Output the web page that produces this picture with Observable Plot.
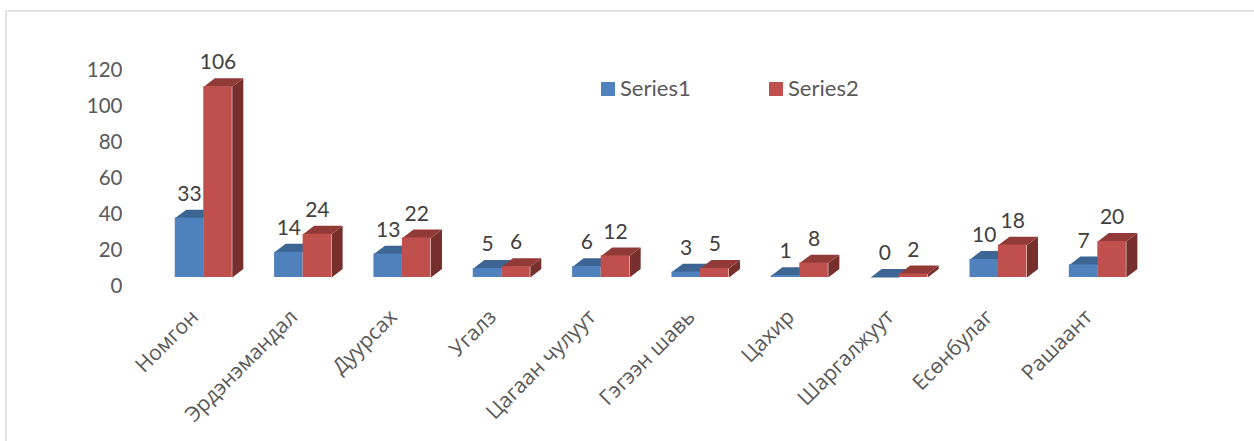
<!DOCTYPE html>
<html>
<head>
<meta charset="utf-8">
<script src="https://cdn.jsdelivr.net/npm/d3@7"></script>
<script src="https://cdn.jsdelivr.net/npm/@observablehq/plot@0.6"></script>
<style>
  html, body { margin: 0; padding: 0; background: #fff; }
  #chart { position: relative; width: 1254px; height: 441px; overflow: hidden; font-family: Lato, "Open Sans", sans-serif; }
  #chart svg { position: absolute; left: 0; top: 0; background: transparent; }
  #edge { position: absolute; left: 5px; top: 10px; right: 0; bottom: 0; border-top: 2px solid #e2e2e2; border-left: 2px solid #e2e2e2; }
  .key { position: absolute; top: 75px; font-size: 22px; line-height: 26px; color: #595959; white-space: nowrap; }
  .key i { position: absolute; left: 0; top: 7px; width: 14px; height: 14px; }
  .key span { position: absolute; left: 19px; top: 0; }
</style>
</head>
<body>
<div id="chart"><div id="edge"></div></div>
<script>
const categories = ["Номгон", "Эрдэнэмандал", "Дуурсах", "Угалз", "Цагаан чулуут", "Гэгээн шавь", "Цахир", "Шаргалжуут", "Есөнбулаг", "Рашаант"];
const series1 = [33, 14, 13, 5, 6, 3, 1, 0, 10, 7];
const series2 = [106, 24, 22, 6, 12, 5, 8, 2, 18, 20];
const seriesNames = ["Series1", "Series2"];
const frontColors = ["#4f81bd", "#c0504d"];
const topColors = ["#3d6594", "#913a38"];
const sideColors = ["#345680", "#772f2d"];
const yTicks = [0, 20, 40, 60, 80, 100, 120];

// Depth of the 3-D boxes and width of a bar, in scale units
const barW = 0.287;
const depthX = 0.111;
const depthY = 4.7;

const bars = [];
categories.forEach((c, i) => {
  [series1, series2].forEach((vals, s) => {
    bars.push({c, i, s, v: vals[i], x0: i - barW + s * barW, x1: i + s * barW});
  });
});

const poly = (kind) => bars.flatMap((b) => {
  const id = `${b.i}-${b.s}`;
  const pts = kind === "top"
    ? [[b.x0, b.v], [b.x1, b.v], [b.x1 + depthX, b.v + depthY], [b.x0 + depthX, b.v + depthY]]
    : [[b.x1, 0], [b.x1 + depthX, depthY], [b.x1 + depthX, b.v + depthY], [b.x1, b.v]];
  return pts.map(([px, py]) => ({id, s: b.s, px, py}));
});

// Painter's order: each series' side and top, then its front, so red covers blue.
const layer = (s) => [
  Plot.line(poly("side").filter((d) => d.s === s), {x: "px", y: "py", z: "id", fill: sideColors[s], stroke: "none"}),
  Plot.line(poly("top").filter((d) => d.s === s), {x: "px", y: "py", z: "id", fill: topColors[s], stroke: "none"}),
  Plot.rectY(bars.filter((d) => d.s === s), {x1: "x0", x2: "x1", y1: 0, y2: "v", fill: frontColors[s], inset: 0})
];

const chart = Plot.plot({
  width: 1254,
  height: 441,
  marginLeft: 122,
  marginRight: 0,
  marginTop: 0,
  marginBottom: 0,
  style: {background: "transparent"},
  x: {domain: [-0.5, 9.5], range: [153.6, 1147], axis: null},
  y: {domain: [0, 120], range: [277, 61], axis: null},
  marks: [
    Plot.axisY(yTicks, {anchor: "left", tickSize: 0, tickPadding: 0, dy: 9, label: null, fontSize: 20.5, fill: "#595959", fontFamily: "Lato, 'Open Sans', sans-serif"}),
    ...layer(0),
    ...layer(1),
    Plot.text(bars, {x: (d) => (d.x0 + d.x1) / 2, y: "v", text: (d) => String(d.v), dy: -24, fontSize: 21, fill: "#404040", fontFamily: "Lato, 'Open Sans', sans-serif"}),
    Plot.text(categories, {x: (d, i) => i, y: () => 0, text: (d) => d, rotate: -45, textAnchor: "end", dy: 36, dx: -9, fontSize: 21, fill: "#595959", fontFamily: "'Open Sans', sans-serif"})
  ]
});
const root = document.getElementById("chart");
root.appendChild(chart);

// Legend sits inside the plot area
[601, 769].forEach((left, s) => {
  const k = document.createElement("div");
  k.className = "key";
  k.style.left = left + "px";
  k.innerHTML = `<i style="background:${frontColors[s]}"></i><span>${seriesNames[s]}</span>`;
  root.appendChild(k);
});
</script>
</body>
</html>
